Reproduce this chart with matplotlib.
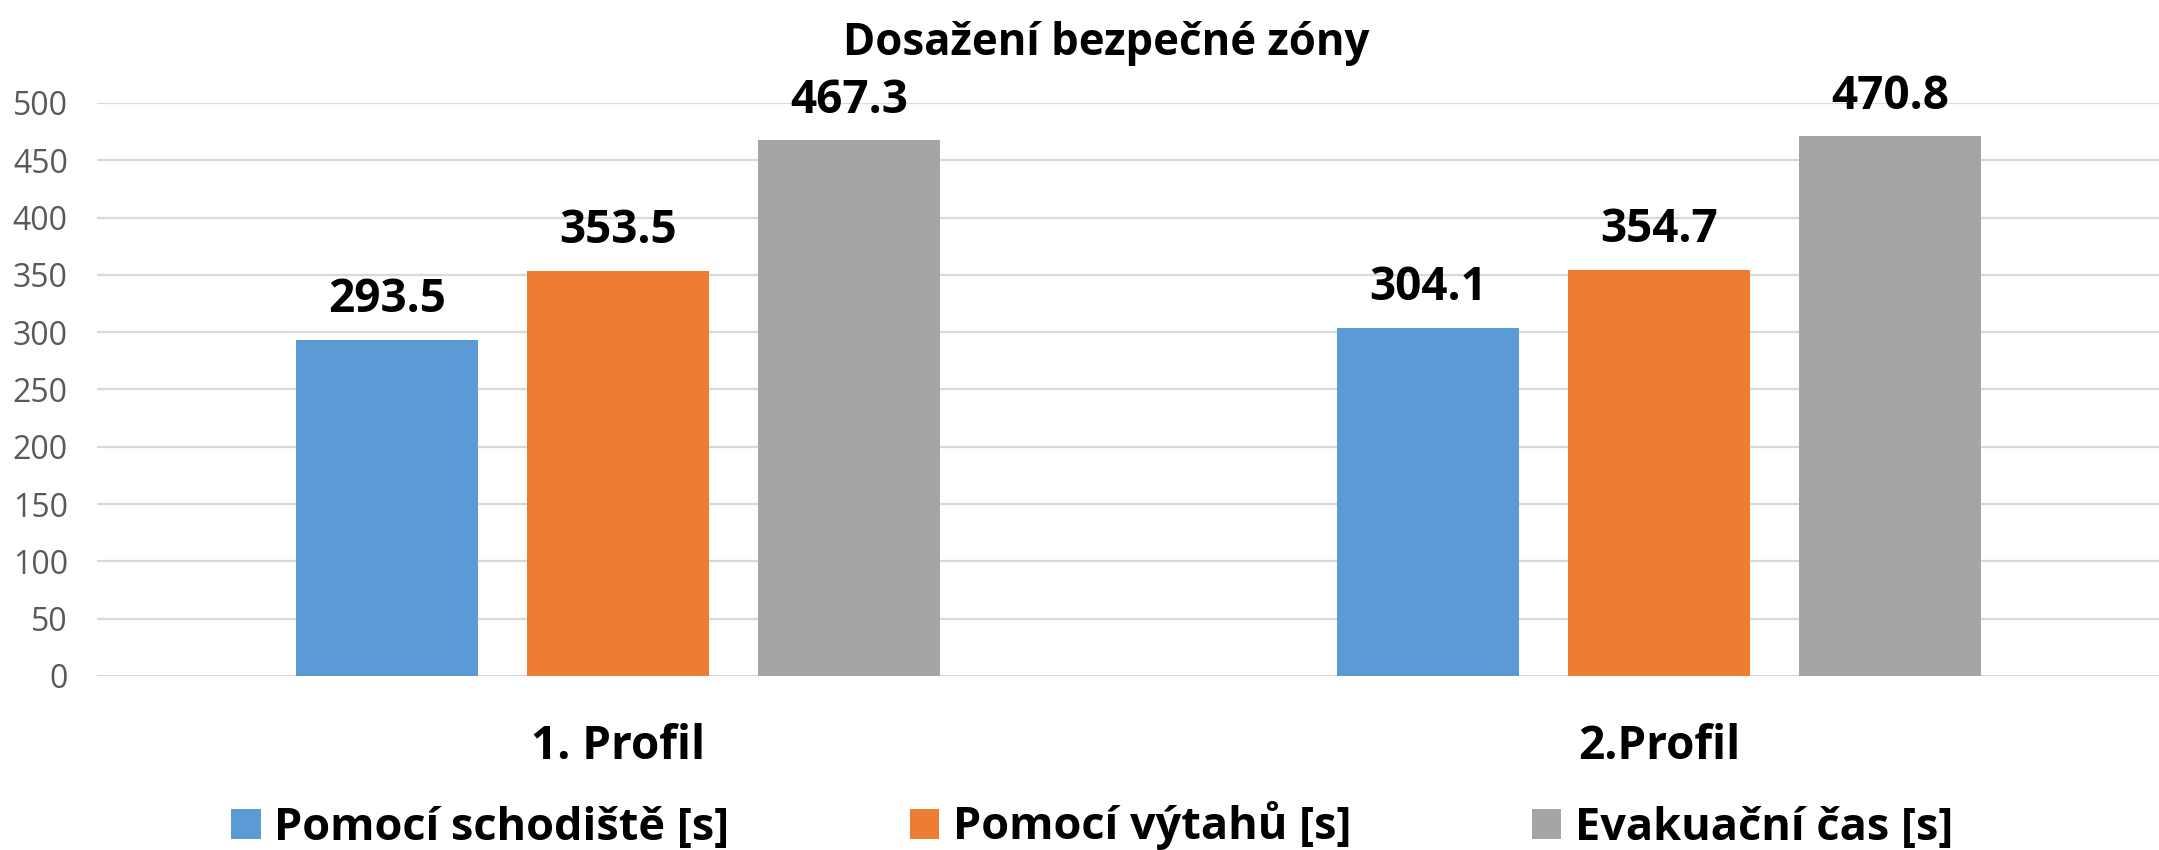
import numpy as np
import matplotlib
matplotlib.use('Agg')
import matplotlib.pyplot as plt

plt.rcParams['font.family'] = ['Open Sans', 'DejaVu Sans']

profiles = ['1. Profil', '2.Profil']
series = ['Pomocí schodiště [s]', 'Pomocí výtahů [s]', 'Evakuační čas [s]']
stairs = [293.5, 304.1]
lifts = [353.5, 354.7]
evac = [467.3, 470.8]
colors = ['#5B9BD5', '#ED7D31', '#A5A5A5']
yticks = [0, 50, 100, 150, 200, 250, 300, 350, 400, 450, 500]

fig = plt.figure(figsize=(21.59, 8.5), dpi=100)
ax = fig.add_axes([97/2159, 174/850, 2083/2159, 573/850])

x = np.arange(len(profiles))
width = 0.1747
step = 0.2218
values = [stairs, lifts, evac]
for i in range(3):
    bars = ax.bar(x + (i - 1)*step, values[i], width, color=colors[i], label=series[i], zorder=3)
    for b, v in zip(bars, values[i]):
        ax.annotate('%.1f' % v, (b.get_x() + b.get_width()/2, v), xytext=(0, 20),
                    textcoords='offset points', ha='center', va='baseline',
                    fontsize=33, fontweight='bold', color='black', annotation_clip=False)

ax.set_xlim(-0.5, 1.5)
ax.set_ylim(0, 500)
ax.set_yticks(yticks)
ax.set_xticks(x)
ax.set_xticklabels(profiles, fontsize=33, fontweight='bold')
ax.tick_params(axis='x', length=0, pad=34)
ax.tick_params(axis='y', length=0, pad=21, labelsize=23, labelcolor='#595959')
ax.yaxis.grid(True, color='#D9D9D9', linewidth=1.6, zorder=0)
ax.set_axisbelow(True)
for s in ax.spines.values():
    s.set_visible(False)

fig.text(1106/2159, 795/850, 'Dosažení bezpečné zóny', ha='center', va='baseline',
         fontsize=31.5, fontweight='bold')

leg = fig.legend(loc='center', bbox_to_anchor=(1092/2159, 24/850), ncol=3, frameon=False,
                 prop={'size': 32.5, 'weight': 'bold'}, handlelength=0.65, handleheight=0.65,
                 handletextpad=0.3, columnspacing=4.0, borderpad=0)

fig.savefig('out.png', dpi=100)
